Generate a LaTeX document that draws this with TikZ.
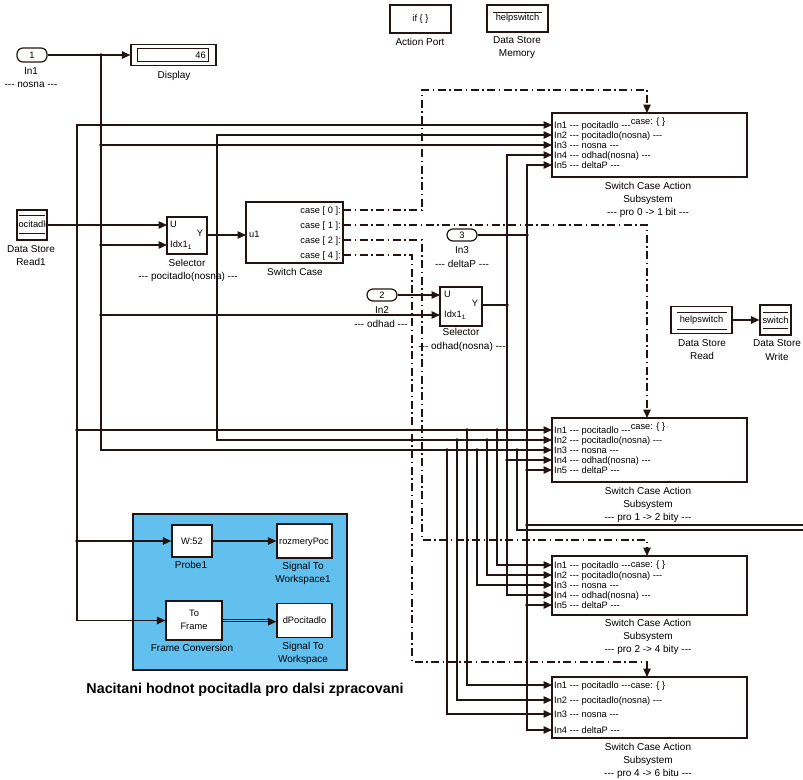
\documentclass[tikz,border=0pt]{standalone}
\usepackage{fontspec}
\setmainfont{Liberation Sans}
\usetikzlibrary{arrows.meta}
\definecolor{wc}{RGB}{35,20,20}
\definecolor{bluebg}{RGB}{97,192,238}
\newcommand\dd{-\kern0pt-\kern0pt-}
\newcommand\flab{\fontsize{10}{12}\selectfont}
\newcommand\fin{\fontsize{9.3}{11}\selectfont}
\newcommand\fttl{\fontsize{14.3}{16}\selectfont\bfseries}
\begin{document}
\begin{tikzpicture}[x=1pt,y=-1pt,
 wire/.style={draw=wc,line width=1.2pt},
 arr/.style={-{Triangle[length=8.5pt,width=7.5pt]}},
 ddash/.style={dash pattern=on 8pt off 3.5pt on 1.5pt off 3.5pt},
 blk/.style={draw=wc,line width=1.2pt,fill=white,inner sep=0pt,font=\fin},
 ssb/.style={blk,line width=2.6pt,minimum width=195pt},
 port/.style={blk,rounded corners=6pt,minimum width=30pt},
 lab/.style={font=\flab,inner sep=0pt,text height=7pt,text depth=0pt},
 itx/.style={font=\fin,inner sep=0pt,text height=6.8pt,text depth=0pt}
]
\useasboundingbox (0,0) rectangle (803,779);
\fill[white] (0,0) rectangle (803,779);

% ---------- coloured area ----------
\node[draw=wc,line width=1.2pt,fill=bluebg,minimum width=214pt,minimum height=156pt,inner sep=0pt] (area) at (240,592) {};

% ---------- blocks ----------
\node[port,minimum height=14pt] (in1) at (32,55) {1};
\node[blk,minimum width=85pt,minimum height=21pt] (disp) at (173.5,55) {};
\draw[wc,line width=1pt] (137,48.5) rectangle (208,61.5);
\node[itx,anchor=east] (dispv) at (206,55) {46};

\node[blk,minimum width=61pt,minimum height=28pt] (aport) at (420.5,19) {if \{ \}};
\node[blk,minimum width=61pt,minimum height=27pt] (dsm) at (517.5,18.5) {helpswitch};
\draw[wc,line width=1pt] (493,12.5) -- (542,12.5);

\node[ssb,minimum height=64pt] (ss1) at (649.5,145) {};
\node[ssb,minimum height=64pt] (ss2) at (649.5,450) {};
\node[ssb,minimum height=59pt] (ss3) at (649.5,585.5) {};
\node[ssb,minimum height=61pt] (ss4) at (649.5,707.5) {};

\node[blk,minimum width=30pt,minimum height=30pt] (dsr1) at (32,225) {};
\begin{scope}
\clip (17.5,210.5) rectangle (46.5,239.5);
\node[itx] (dsr1t) at (32,224) {pocitadlo};
\end{scope}
\draw[wc,line width=1pt] (19,215) -- (45,215) (19,233) -- (45,233);

\node[blk,minimum width=40pt,minimum height=37pt] (sel1) at (187,235.5) {};
\node[itx,anchor=west] (sel1u) at (170,224.5) {U};
\node[itx,anchor=west] (sel1i) at (170,244.5) {Idx1\textsubscript{1}};
\node[itx] (sel1y) at (200,233.5) {Y};

\node[blk,minimum width=97pt,minimum height=61pt] (sw) at (294.5,232.5) {};
\node[itx,anchor=west] (swu) at (249,234.5) {u1};
\foreach \k/\yy/\t in {0/210/0,1/225/1,2/240/2,3/255/4}
  \node[itx,anchor=east] (swc\k) at (341,\yy) {case [ \t\ ]:};

\node[port,minimum height=12pt] (in3) at (462,235) {3};
\node[port,minimum height=12pt] (in2) at (382,295) {2};

\node[blk,minimum width=42pt,minimum height=39pt] (sel2) at (461,306.5) {};
\node[itx,anchor=west] (sel2u) at (444,294.5) {U};
\node[itx,anchor=west] (sel2i) at (444,314.5) {Idx1\textsubscript{1}};
\node[itx] (sel2y) at (475,303.5) {Y};

\node[blk,minimum width=61pt,minimum height=27pt] (dsr) at (701.5,320) {helpswitch};
\draw[wc,line width=1pt] (677,312) -- (727,312) (677,329) -- (727,329);
\node[blk,minimum width=31pt,minimum height=30pt] (dsw) at (775.5,320) {switch};
\draw[wc,line width=1pt] (763,312) -- (788,312) (763,328) -- (788,328);

\node[blk,minimum width=40pt,minimum height=32pt] (probe) at (192,541) {W:52};
\node[blk,minimum width=55pt,minimum height=34pt] (stw1) at (304.5,541) {};
\begin{scope}
\clip (277.5,524.5) rectangle (331.5,557.5);
\node[itx] (stw1t) at (304,541) {rozmeryPoc};
\end{scope}
\node[blk,minimum width=56pt,minimum height=39pt] (fc) at (194,620.5) {};
\node[itx] (fct1) at (194,613.5) {To};
\node[itx] (fct2) at (194,626.5) {Frame};
\node[blk,minimum width=55pt,minimum height=34pt] (stw) at (304.5,620.5) {dPocitadlo};

% ---------- ports ----------
\foreach \s/\a/\b/\c/\d/\e in {ss1/125/135/145/155/165, ss2/430/440/450/460/470, ss3/565/575/585/595/605}{
  \coordinate (\s i1) at (552,\a); \coordinate (\s i2) at (552,\b);
  \coordinate (\s i3) at (552,\c); \coordinate (\s i4) at (552,\d);
  \coordinate (\s i5) at (552,\e);
}
\coordinate (ss4i1) at (552,685); \coordinate (ss4i2) at (552,700);
\coordinate (ss4i3) at (552,714); \coordinate (ss4i4) at (552,730);
\coordinate (ss1t) at (647,113); \coordinate (ss2t) at (647,418);
\coordinate (ss3t) at (647,556); \coordinate (ss4t) at (647,677);
\coordinate (c0) at (343,210); \coordinate (c1) at (343,225);
\coordinate (c2) at (343,240); \coordinate (c3) at (343,255);
\coordinate (s1u) at (167,225); \coordinate (s1i) at (167,245); \coordinate (s1y) at (207,235);
\coordinate (swin) at (246,235);
\coordinate (s2u) at (440,295); \coordinate (s2i) at (440,315); \coordinate (s2y) at (482,305);
\coordinate (e1) at (803,525); \coordinate (e2) at (803,530);

% ---------- junctions ----------
\coordinate (jn1) at (101,55);  \coordinate (jn2) at (101,145);
\coordinate (jn3) at (101,245); \coordinate (jn4) at (101,315);
\coordinate (jp) at (77,225);   \coordinate (jp2) at (77,430); \coordinate (jp3) at (77,541);
\coordinate (jpn) at (217,235);
\coordinate (jo) at (507,305);  \coordinate (jo2) at (507,460);
\coordinate (jd) at (527,235);  \coordinate (jd2) at (527,470);
\coordinate (jd3) at (527,525); \coordinate (jd4) at (527,605);
\coordinate (ja1) at (467,430); \coordinate (ja2) at (497,430);
\coordinate (jb1) at (457,440); \coordinate (jb2) at (487,440);
\coordinate (jc1) at (447,450); \coordinate (jc2) at (477,450); \coordinate (jc3) at (517,450);

% ---------- action (dash-dot) lines ----------
\draw[wire,ddash,arr] (c0) -| (422,90) -| (ss1t);
\draw[wire,ddash,arr] (c1) -| (ss2t);
\draw[wire,ddash,arr] (c2) -| (422,540) -| (ss3t);
\draw[wire,ddash,arr] (c3) -| (412,662) -| (ss4t);

% ---------- signal lines ----------
\draw[wire,arr] (in1.east) -- (disp.west);
\draw[wire,arr] (jn1) |- (ss2i3);
\draw[wire,arr] (jn2) -- (ss1i3);
\draw[wire,arr] (jn3) -- (s1i);
\draw[wire,arr] (jn4) -- (s2i);
\draw[wire,arr] (dsr1.east) -- (s1u);
\draw[wire,arr] (jp) |- (ss1i1);
\draw[wire,arr] (jp) |- (fc.west);
\draw[wire,arr] (jp2) -- (ss2i1);
\draw[wire,arr] (jp3) -- (probe.west);
\draw[wire,arr] (s1y) -- (swin);
\draw[wire,arr] (jpn) |- (ss1i2);
\draw[wire,arr] (jpn) |- (ss2i2);
\draw[wire,arr] (in2.east) -- (s2u);
\draw[wire] (s2y) -- (jo);
\draw[wire,arr] (jo) |- (ss1i4);
\draw[wire,arr] (jo) |- (ss3i4);
\draw[wire,arr] (jo2) -- (ss2i4);
\draw[wire] (in3.east) -- (jd);
\draw[wire,arr] (jd) |- (ss1i5);
\draw[wire,arr] (jd) |- (ss4i4);
\draw[wire,arr] (jd2) -- (ss2i5);
\draw[wire] (jd3) -- (e1);
\draw[wire,arr] (jd4) -- (ss3i5);
\draw[wire,arr] (ja1) |- (ss4i1);
\draw[wire,arr] (ja2) |- (ss3i1);
\draw[wire,arr] (jb1) |- (ss4i2);
\draw[wire,arr] (jb2) |- (ss3i2);
\draw[wire,arr] (jc1) |- (ss4i3);
\draw[wire,arr] (jc2) |- (ss3i3);
\draw[wire] (jc3) |- (e2);
\draw[wire,arr] (probe.east) -- (stw1.west);
\draw[wire] ([yshift=1.2pt]fc.east) -- ([yshift=1.2pt,xshift=-6pt]stw.west);
\draw[wire,arr] ([yshift=-1.2pt]fc.east) -- ([yshift=-1.2pt]stw.west);
\draw[wire,arr] (dsr.east) -- (dsw.west);

\foreach \j in {jn1,jn2,jn3,jn4,jp,jp2,jp3,jpn,jo,jo2,jd,jd2,jd3,jd4,ja1,ja2,jb1,jb2,jc1,jc2,jc3}
  \fill[wc] (\j) circle (1.8pt);

% ---------- subsystem texts ----------
\foreach \s/\a/\b/\c/\d/\e/\tp in {ss1/125/135/145/155/165/121, ss2/430/440/450/460/470/426, ss3/565/575/585/595/605/564}{
  \node[itx,anchor=west] (\s t1) at (554,\a) {In1 \dd{} pocitadlo \dd};
  \node[itx,anchor=west] (\s t2) at (554,\b) {In2 \dd{} pocitadlo(nosna) \dd};
  \node[itx,anchor=west] (\s t3) at (554,\c) {In3 \dd{} nosna \dd};
  \node[itx,anchor=west] (\s t4) at (554,\d) {In4 \dd{} odhad(nosna) \dd};
  \node[itx,anchor=west] (\s t5) at (554,\e) {In5 \dd{} deltaP \dd};
  \node[itx] (\s cs) at (648,\tp) {case: \{ \}};
}
\node[itx,anchor=west] (ss4t1) at (554,685) {In1 \dd{} pocitadlo \dd};
\node[itx,anchor=west] (ss4t2) at (554,700) {In2 \dd{} pocitadlo(nosna) \dd};
\node[itx,anchor=west] (ss4t3) at (554,714) {In3 \dd{} nosna \dd};
\node[itx,anchor=west] (ss4t4) at (554,730) {In4 \dd{} deltaP \dd};
\node[itx] (ss4cs) at (648,685) {case: \{ \}};

% ---------- labels ----------
\node[lab] (l1) at (31,71) {In1};
\node[lab] (l2) at (31,84) {\dd{} nosna \dd};
\node[lab] (l3) at (174,75) {Display};
\node[lab] (l4) at (420,42) {Action Port};
\node[lab] (l5) at (517,40) {Data Store};
\node[lab] (l6) at (517,53) {Memory};
\node[lab] (l7) at (31,249) {Data Store};
\node[lab] (l8) at (31,262) {Read1};
\node[lab] (l9) at (187,263) {Selector};
\node[lab] (l10) at (188,276) {\dd{} pocitadlo(nosna) \dd};
\node[lab] (l11) at (295,272) {Switch Case};
\node[lab] (l12) at (462,250) {In3};
\node[lab] (l13) at (462,264) {\dd{} deltaP \dd};
\node[lab] (l14) at (382,310) {In2};
\node[lab] (l15) at (381,324) {\dd{} odhad \dd};
\node[lab] (l16) at (461,332) {Selector};
\node[lab] (l17) at (462,346) {\dd{} odhad(nosna) \dd};
\node[lab] (l18) at (702,343) {Data Store};
\node[lab] (l19) at (702,356) {Read};
\node[lab] (l20) at (777,343) {Data Store};
\node[lab] (l21) at (777,357) {Write};
\node[lab] (l22) at (191,565) {Probe1};
\node[lab] (l23) at (303,566) {Signal To};
\node[lab] (l24) at (303,579) {Workspace1};
\node[lab] (l25) at (192,648) {Frame Conversion};
\node[lab] (l26) at (303,646) {Signal To};
\node[lab] (l27) at (303,659) {Workspace};
\node[font=\fttl,inner sep=0pt] (ttl) at (245,690) {Nacitani hodnot pocitadla pro dalsi zpracovani};
\foreach \s/\y/\t in {ss1/186/{pro 0 -> 1 bit}, ss2/491/{pro 1 -> 2 bity}, ss3/623/{pro 2 -> 4 bity}, ss4/747/{pro 4 -> 6 bitu}}{
  \node[lab] (\s la) at (648,\y) {Switch Case Action};
  \node[lab] (\s lb) at (648,\y+13) {Subsystem};
  \node[lab] (\s lc) at (648,\y+26) {\dd{} \t{} \dd};
}
\end{tikzpicture}
\end{document}
